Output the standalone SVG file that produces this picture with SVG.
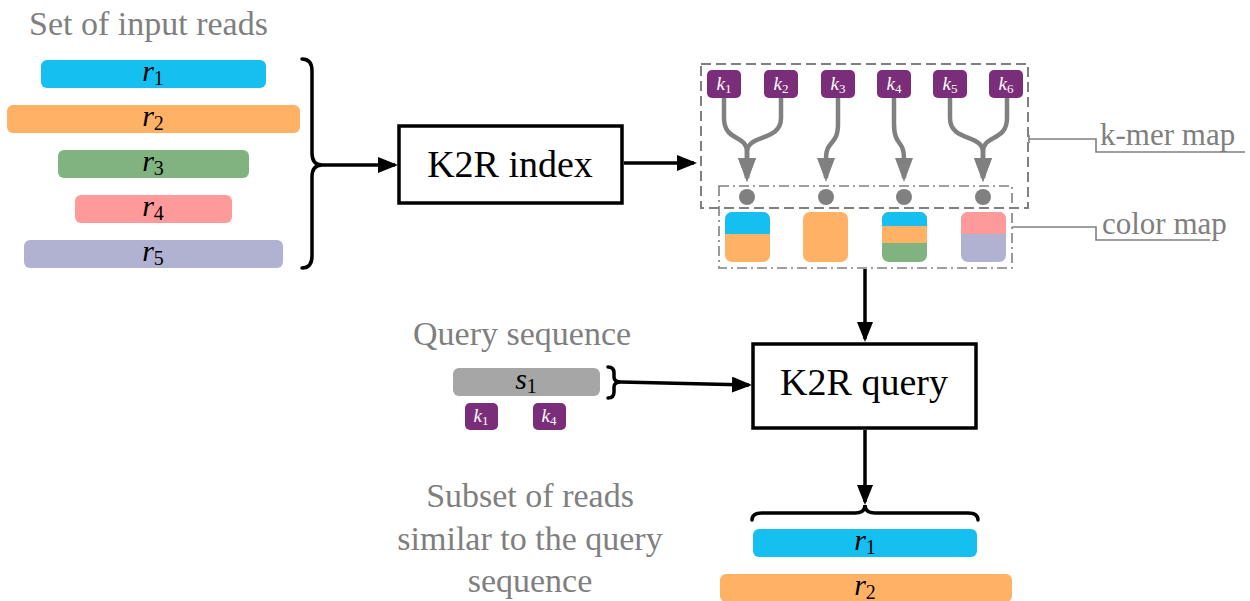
<svg xmlns="http://www.w3.org/2000/svg" width="1250" height="601" viewBox="0 0 1250 601">
  <style>
    text, tspan { font-family: 'Liberation Serif', 'Times New Roman', serif !important; }
  </style>
  <defs>
    <marker id="arrow" markerUnits="userSpaceOnUse" viewBox="0 0 20 16" markerWidth="20" markerHeight="16" refX="17" refY="8" orient="auto">
      <path d="M0,0 L20,8 L0,16 z" fill="#000"/>
    </marker>
    <marker id="garrow" markerUnits="userSpaceOnUse" viewBox="0 0 24 18" markerWidth="24" markerHeight="18" refX="20" refY="9" orient="auto">
      <path d="M0,0 L24,9 L0,18 z" fill="#808080"/>
    </marker>
    <clipPath id="c1"><rect x="725" y="212" width="45" height="50" rx="7"/></clipPath>
    <clipPath id="c3"><rect x="882" y="212" width="45" height="50" rx="7"/></clipPath>
    <clipPath id="c4"><rect x="961" y="212" width="45" height="50" rx="7"/></clipPath>
  </defs>

  <!-- input reads -->
  <g id="input-reads">
    <text font-family="Liberation Serif, serif" font-size="34" fill="#7f7f7f" x="29" y="35">Set of input reads</text>
    <rect fill="#15c0f1" x="41" y="60" width="225" height="28" rx="6"/>
    <text font-family="Liberation Serif, serif" font-style="italic" font-size="30" text-anchor="middle" x="153" y="81">r<tspan font-style="normal" font-size="20" dy="4">1</tspan></text>
    <rect fill="#ffb266" x="7" y="105" width="293" height="28" rx="6"/>
    <text font-family="Liberation Serif, serif" font-style="italic" font-size="30" text-anchor="middle" x="153" y="126">r<tspan font-style="normal" font-size="20" dy="4">2</tspan></text>
    <rect fill="#80b380" x="58" y="150" width="191" height="28" rx="6"/>
    <text font-family="Liberation Serif, serif" font-style="italic" font-size="30" text-anchor="middle" x="153" y="171">r<tspan font-style="normal" font-size="20" dy="4">3</tspan></text>
    <rect fill="#ff9a9a" x="75" y="195" width="157" height="28" rx="6"/>
    <text font-family="Liberation Serif, serif" font-style="italic" font-size="30" text-anchor="middle" x="153" y="216">r<tspan font-style="normal" font-size="20" dy="4">4</tspan></text>
    <rect fill="#b1b1d1" x="24" y="240" width="259" height="28" rx="6"/>
    <text font-family="Liberation Serif, serif" font-style="italic" font-size="30" text-anchor="middle" x="153" y="261">r<tspan font-style="normal" font-size="20" dy="4">5</tspan></text>
    <path fill="none" stroke="#000" stroke-width="3.5" stroke-linecap="round" d="M302,59 Q312,59 312,71 L312,153 Q312,165 322,165 Q312,165 312,177 L312,256 Q312,268 302,268"/>
  </g>

  <!-- index step -->
  <g id="k2r-index">
    <rect fill="#fff" stroke="#000" stroke-width="3.5" x="399" y="126" width="223" height="77"/>
    <text font-family="Liberation Serif, serif" font-size="38" text-anchor="middle" x="510" y="177">K2R index</text>
  </g>

  <!-- k-mer map -->
  <g id="kmer-map">
    <rect x="701" y="64" width="327" height="144" fill="none" stroke="#808080" stroke-width="2" stroke-dasharray="10,5"/>
    <g fill="#7a2e7a">
      <rect x="707" y="70" width="34" height="28" rx="5"/>
      <rect x="764" y="70" width="34" height="28" rx="5"/>
      <rect x="821" y="70" width="34" height="28" rx="5"/>
      <rect x="877" y="70" width="34" height="28" rx="5"/>
      <rect x="933" y="70" width="34" height="28" rx="5"/>
      <rect x="989" y="70" width="34" height="28" rx="5"/>
    </g>
    <text font-family="Liberation Serif, serif" font-style="italic" font-size="19" fill="#fff" text-anchor="middle" x="724" y="90">k<tspan font-style="normal" font-size="13" dy="3">1</tspan></text>
    <text font-family="Liberation Serif, serif" font-style="italic" font-size="19" fill="#fff" text-anchor="middle" x="781" y="90">k<tspan font-style="normal" font-size="13" dy="3">2</tspan></text>
    <text font-family="Liberation Serif, serif" font-style="italic" font-size="19" fill="#fff" text-anchor="middle" x="838" y="90">k<tspan font-style="normal" font-size="13" dy="3">3</tspan></text>
    <text font-family="Liberation Serif, serif" font-style="italic" font-size="19" fill="#fff" text-anchor="middle" x="894" y="90">k<tspan font-style="normal" font-size="13" dy="3">4</tspan></text>
    <text font-family="Liberation Serif, serif" font-style="italic" font-size="19" fill="#fff" text-anchor="middle" x="950" y="90">k<tspan font-style="normal" font-size="13" dy="3">5</tspan></text>
    <text font-family="Liberation Serif, serif" font-style="italic" font-size="19" fill="#fff" text-anchor="middle" x="1006" y="90">k<tspan font-style="normal" font-size="13" dy="3">6</tspan></text>
    <g id="kmer-links" fill="none" stroke="#808080" stroke-width="4.5">
      <path marker-end="url(#garrow)" d="M724,98 L724,118 C724,142 747,134 747,152 L747,178"/>
      <path marker-end="url(#garrow)" d="M781,98 L781,118 C781,142 747,134 747,152 L747,178"/>
      <path marker-end="url(#garrow)" d="M838,98 L838,124 C838,146 826,140 826,158 L826,178"/>
      <path marker-end="url(#garrow)" d="M894,98 L894,124 C894,146 904,140 904,158 L904,178"/>
      <path marker-end="url(#garrow)" d="M950,98 L950,118 C950,142 983,134 983,152 L983,178"/>
      <path marker-end="url(#garrow)" d="M1007,98 L1007,118 C1007,142 983,134 983,152 L983,178"/>
    </g>
    <path fill="none" stroke="#808080" stroke-width="1.6" d="M1029,135 L1029,143 M1029,139 L1096,139 L1096,152 L1245,152"/>
    <text font-family="Liberation Serif, serif" font-size="31" fill="#7f7f7f" x="1100" y="145">k-mer map</text>
  </g>

  <!-- color map -->
  <g id="color-map">
    <rect x="719" y="186" width="293" height="82" fill="none" stroke="#808080" stroke-width="1.6" stroke-dasharray="10,4,2,4"/>
    <g fill="#808080">
      <circle cx="747" cy="197" r="8"/>
      <circle cx="826" cy="197" r="8"/>
      <circle cx="904" cy="197" r="8"/>
      <circle cx="983" cy="197" r="8"/>
    </g>
    <g clip-path="url(#c1)">
      <rect fill="#ffb266" x="725" y="212" width="45" height="50"/>
      <rect fill="#15c0f1" x="725" y="212" width="45" height="22"/>
    </g>
    <rect fill="#ffb266" x="803" y="212" width="45" height="50" rx="7"/>
    <g clip-path="url(#c3)">
      <rect fill="#80b380" x="882" y="212" width="45" height="50"/>
      <rect fill="#ffb266" x="882" y="212" width="45" height="31"/>
      <rect fill="#15c0f1" x="882" y="212" width="45" height="14"/>
    </g>
    <g clip-path="url(#c4)">
      <rect fill="#b1b1d1" x="961" y="212" width="45" height="50"/>
      <rect fill="#ff9a9a" x="961" y="212" width="45" height="22"/>
    </g>
    <path fill="none" stroke="#808080" stroke-width="1.6" d="M1012,227 L1096,227 L1096,240 L1210,240"/>
    <text font-family="Liberation Serif, serif" font-size="31" fill="#7f7f7f" x="1102" y="234">color map</text>
  </g>

  <!-- query sequence -->
  <g id="query-sequence">
    <text font-family="Liberation Serif, serif" font-size="34" fill="#7f7f7f" x="413" y="345">Query sequence</text>
    <rect fill="#a6a6a6" x="453" y="368" width="147" height="28" rx="6"/>
    <text font-family="Liberation Serif, serif" font-style="italic" font-size="30" text-anchor="middle" x="526" y="389">s<tspan font-style="normal" font-size="20" dy="4">1</tspan></text>
    <rect fill="#7a2e7a" x="465" y="403" width="33" height="27" rx="5"/>
    <text font-family="Liberation Serif, serif" font-style="italic" font-size="19" fill="#fff" text-anchor="middle" x="481" y="422">k<tspan font-style="normal" font-size="13" dy="3">1</tspan></text>
    <rect fill="#7a2e7a" x="533" y="403" width="33" height="27" rx="5"/>
    <text font-family="Liberation Serif, serif" font-style="italic" font-size="19" fill="#fff" text-anchor="middle" x="549" y="422">k<tspan font-style="normal" font-size="13" dy="3">4</tspan></text>
    <path fill="none" stroke="#000" stroke-width="3.5" stroke-linecap="round" d="M608,367 Q614,367 614,373 L614,377 Q614,382 621,382 Q614,382 614,387 L614,392 Q614,398 608,398"/>
  </g>

  <!-- query step -->
  <g id="k2r-query">
    <rect fill="#fff" stroke="#000" stroke-width="3.5" x="753" y="344" width="223" height="84"/>
    <text font-family="Liberation Serif, serif" font-size="38" text-anchor="middle" x="864" y="395">K2R query</text>
  </g>

  <!-- resulting reads -->
  <g id="result-reads">
    <text font-family="Liberation Serif, serif" font-size="34" fill="#7f7f7f" text-anchor="middle" x="530" y="507">Subset of reads</text>
    <text font-family="Liberation Serif, serif" font-size="34" fill="#7f7f7f" text-anchor="middle" x="530" y="550">similar to the query</text>
    <text font-family="Liberation Serif, serif" font-size="34" fill="#7f7f7f" text-anchor="middle" x="530" y="592">sequence</text>
    <path fill="none" stroke="#000" stroke-width="3.5" stroke-linecap="round" d="M752,520 Q752,513 762,513 L855,513 Q865,513 865,505 Q865,513 875,513 L968,513 Q978,513 978,520"/>
    <rect fill="#15c0f1" x="753" y="529" width="224" height="28" rx="6"/>
    <text font-family="Liberation Serif, serif" font-style="italic" font-size="30" text-anchor="middle" x="865" y="550">r<tspan font-style="normal" font-size="20" dy="4">1</tspan></text>
    <rect fill="#ffb266" x="720" y="574" width="292" height="28" rx="6"/>
    <text font-family="Liberation Serif, serif" font-style="italic" font-size="30" text-anchor="middle" x="865" y="595">r<tspan font-style="normal" font-size="20" dy="4">2</tspan></text>
  </g>

  <!-- connectors -->
  <g id="connectors" fill="none" stroke="#000" stroke-width="3.5">
    <path marker-end="url(#arrow)" d="M322,165 L395,165"/>
    <path marker-end="url(#arrow)" d="M624,163 L694,163"/>
    <path marker-end="url(#arrow)" d="M865,269 L865,339"/>
    <path marker-end="url(#arrow)" d="M621,382 L749,385"/>
    <path marker-end="url(#arrow)" d="M865,430 L865,502"/>
  </g>
</svg>
